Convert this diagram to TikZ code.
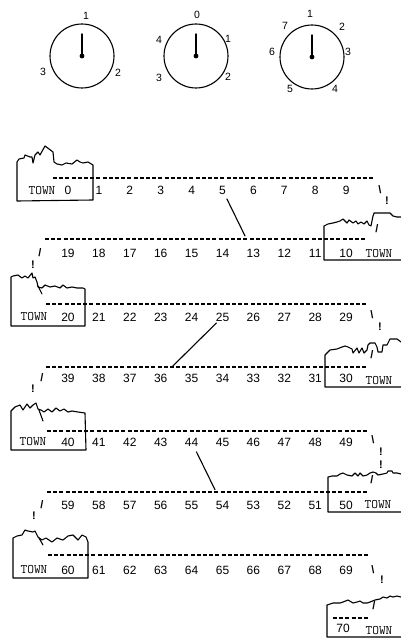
\documentclass[tikz,border=0pt]{standalone}
\usepackage{fontspec}
\setmainfont{Liberation Sans}

\begin{document}
\begin{tikzpicture}[x=1pt,y=-1pt,line cap=round,line join=round]
  \tikzstyle{dial}=[circle,draw,line width=1.1pt,minimum size=64pt,inner sep=0pt];
  \tikzstyle{lbl}=[inner sep=1pt,font=\fontsize{10.5}{12}\selectfont];
  \tikzstyle{num}=[inner sep=1pt,font=\fontsize{12}{14}\selectfont];
  \tikzstyle{town}=[inner sep=1pt,font=\fontsize{13}{14}\selectfont\ttfamily];
  \tikzstyle{typed}=[inner sep=0pt,font=\fontsize{11}{13}\selectfont\bfseries];
  \tikzstyle{wall}=[line width=1.1pt];
  \tikzstyle{track}=[dash pattern=on 4pt off 2.2pt,line width=1.2pt,line cap=butt];

  \useasboundingbox (0,0) rectangle (401,639);

  % dials
  \foreach \name/\x/\y in {d1/82/56,d2/196/56,d3/312/57} {
    \node[dial] (\name) at (\x,\y) {};
    \draw[line width=1.4pt] (\name.center) -- ++(0,-22);
    \fill (\name.center) circle (2.4pt);
  }
  \foreach \name/\t/\x/\y in {d1a/1/86/16,d1b/2/118/73,d1c/3/43/72,
      d2a/0/197/15,d2b/1/228/39,d2c/2/228/77,d2d/3/159/78,d2e/4/159/40,
      d3a/1/310/14,d3b/2/342/27,d3c/3/348/52,d3d/4/335/89,d3e/5/290/89,d3f/6/272/52,d3g/7/285/26}
    \node[lbl] (\name) at (\x,\y) {\t};

  % numbers
  \foreach \r/\y in {0/190,1/253,2/317,3/378,4/442,5/505,6/570}
    \foreach \k in {0,...,9} {
      \pgfmathtruncatemacro\n{mod(\r,2)==1 ? 10*\r+9-\k : 10*\r+\k}
      \node[num] (n\n) at (68+30.9*\k,\y) {\n};
    }
  \node[num] (n70) at (343,628) {70};

  % town names
  \foreach \name/\x/\y in {t0/42/191,t20/34/317,t40/33/442,t60/34/570,
      t10/379/254,t30/379/381,t50/378/505,t70/379/631}
    \node[town] (\name) at (\x,\y) {TOWN};

  % dashed road
  \foreach \xa/\xb/\y in {53/373/178,45/367/239,46/367/304,46/368/367,
      47/368/431,47/368/492,48/368/555,333/368/618}
    \draw[track] (\xa,\y) -- (\xb,\y);

  % turns
  \foreach \name/\t/\x/\y in {r0a/\textbackslash/380/190,r0b/!/387/201,r0c/{/}/377/229,
      r2a/\textbackslash/372/315,r2b/!/380/327,r2c/{/}/372/355,
      r4a/\textbackslash/373/440,r4b/!/381/452,r4c/!/381/465,r4d/{/}/372/480,
      r6a/\textbackslash/373/570,r6b/!/382/580,r6c/{/}/374/606,
      l1a/{/}/40/253,l1b/!/33/265,l3a/{/}/42/378,l3b/!/33/389,l5a/{/}/42/505,l5b/!/34/516}
    \node[typed] (\name) at (\x,\y) {\t};

  % short cuts
  \draw[wall,shorten <=10pt,shorten >=19pt] (n5.center) -- (n13.center);
  \draw[wall,shorten <=17pt,shorten >=8.5pt] (n36.center) -- (n25.center);
  \draw[wall,shorten <=11pt,shorten >=17pt] (n44.center) -- (n54.center);

  % towns on the left
  \draw[wall] (93,200) -- (17,201) -- (17,162) -- (19,159) -- (24,158) -- (25,155)
    -- (30,157) -- (32,157) -- (33,163) -- (35,155) -- (38,152) -- (40,155) -- (45,146)
    -- (53,152) -- (54,162) -- (57,164) -- (62,165) -- (66,163) -- (72,164) -- (77,160)
    -- (80,162) -- (83,163) -- (88,162) -- (93,165) -- cycle;
  \draw[wall] (85,326) -- (11,326) -- (11,277) -- (13,276) -- (18,275) -- (22,278)
    -- (25,276) -- (28,278) -- (32,273) -- (33,278) -- (35,277) -- (37,282) -- (38,287)
    -- (42,288) -- (45,285) -- (50,287) -- (55,286) -- (60,288) -- (63,285) -- (67,288)
    -- (72,287) -- (77,288) -- (83,288) -- (85,289) -- cycle;
  \draw[wall] (38,286) -- (42,294);
  \draw[wall] (86,450) -- (11,450) -- (11,411) -- (15,407) -- (20,405) -- (23,410)
    -- (27,404) -- (30,408) -- (33,405) -- (36,403) -- (38,409) -- (41,410) -- (44,412)
    -- (48,409) -- (52,412) -- (56,408) -- (60,411) -- (64,409) -- (68,412) -- (72,411)
    -- (78,412) -- (85,413) -- cycle;
  \draw[wall] (39,410) -- (43,421);
  \draw[wall] (88,578) -- (13,578) -- (13,538) -- (17,536) -- (22,535) -- (25,530)
    -- (28,531) -- (33,532) -- (35,531) -- (38,537) -- (42,540) -- (46,538) -- (52,542)
    -- (57,538) -- (63,540) -- (68,536) -- (73,535) -- (78,540) -- (82,535) -- (86,537)
    -- (88,542) -- cycle;
  \draw[wall] (39,538) -- (43,545);

  % towns on the right
  \draw[wall] (401,260) -- (324,260) -- (324,226) -- (328,224) -- (333,223) -- (337,222)
    -- (340,221) -- (343,219) -- (347,223) -- (349,220) -- (353,223) -- (356,221)
    -- (358,224) -- (361,222) -- (364,224) -- (367,221) -- (369,225) -- (371,226)
    -- (372,221) -- (373,216) -- (374,213) -- (382,213) -- (390,213) -- (393,216)
    -- (397,217) -- (401,217);
  \draw[wall] (401,387) -- (325,387) -- (325,355) -- (327,353) -- (330,350) -- (337,349)
    -- (342,347) -- (345,346) -- (348,347) -- (352,349) -- (353,353) -- (357,348)
    -- (359,353) -- (362,348) -- (364,353) -- (367,350) -- (368,345) -- (370,343)
    -- (375,343) -- (377,347) -- (378,352) -- (382,352) -- (383,345) -- (387,345)
    -- (388,343) -- (390,339) -- (397,339) -- (401,342);
  \draw[wall] (401,512) -- (328,512) -- (328,477) -- (332,476) -- (337,476) -- (340,474)
    -- (343,473) -- (347,475) -- (352,476) -- (355,473) -- (358,476) -- (360,473)
    -- (363,476) -- (367,475) -- (370,473) -- (373,472) -- (376,473) -- (378,475)
    -- (383,474) -- (387,473) -- (388,471) -- (392,471) -- (393,473) -- (397,473)
    -- (401,474);
  \draw[wall] (401,637) -- (327,637) -- (327,605) -- (333,603) -- (340,603) -- (343,602)
    -- (348,600) -- (353,603) -- (357,602) -- (360,601) -- (363,603) -- (367,603)
    -- (370,602) -- (375,600) -- (380,599) -- (383,597) -- (387,598) -- (390,596)
    -- (393,597) -- (397,596) -- (401,597);
\end{tikzpicture}
\end{document}
